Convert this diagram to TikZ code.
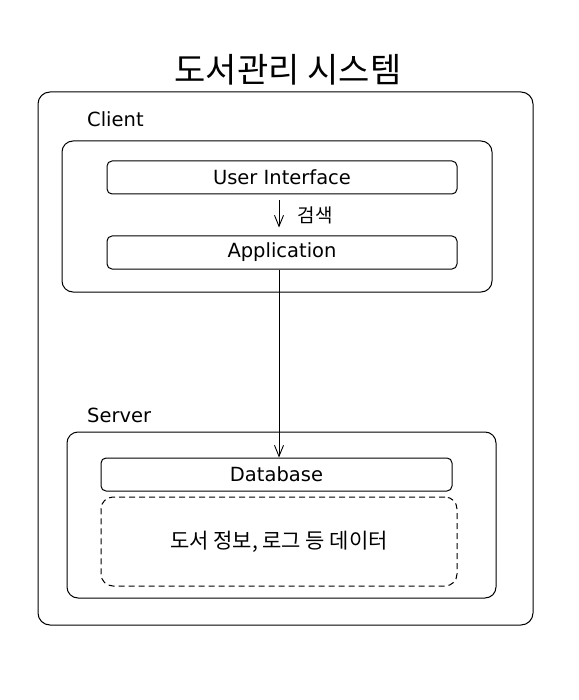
\documentclass[tikz,border=0pt]{standalone}
\usepackage{fontspec}
\setmainfont{DejaVu Sans}
\newfontfamily\kr{Noto Sans CJK KR}
\usetikzlibrary{arrows.meta,positioning}

\begin{document}
\begin{tikzpicture}[
    x=1pt, y=-1pt,
    frame/.style={draw, line width=1pt, rounded corners=12pt},
    layer/.style={frame, rounded corners=11pt},
    part/.style={draw, line width=1pt, rounded corners=5pt, minimum height=33pt,
      inner sep=0pt, font=\fontsize{19.5}{22}\selectfont},
    store/.style={part, dashed, dash pattern=on 6pt off 4pt, rounded corners=12pt,
      font=\kr\fontsize{21}{24}\selectfont},
    arrow/.style={-{Straight Barb[length=11pt,width=9pt]}, line width=0.9pt},
    label/.style={anchor=west, inner sep=0pt, font=\fontsize{19.5}{22}\selectfont}
  ]
    \useasboundingbox (0,0) rectangle (578,700);

    \node[font=\kr\fontsize{34}{38}\selectfont] (title) at (288,70) {도서관리 시스템};
    \node[frame, minimum width=495pt, minimum height=533pt] (system) at (285.5,358.5) {};

    % client side
    \node[label] (clientlbl) at (87,119) {Client};
    \node[layer, minimum width=430pt, minimum height=151pt] (client) at (277,216.5) {};
    \node[part, minimum width=350pt] (ui) at (282,177.5) {User Interface};
    \node[part, minimum width=350pt] (app) at (282,252.5) {Application};

    % server side
    \node[label] (serverlbl) at (87,415) {Server};
    \node[layer, minimum width=429pt, minimum height=166pt] (server) at (281.5,515) {};
    \node[part, minimum width=351pt] (db) at (276.5,474.5) {Database};
    \node[store, minimum width=356pt, minimum height=89pt] (data) at (279,541.5)
      {도서 정보, 로그 등 데이터};

    \draw[arrow, shorten <=6pt, shorten >=8pt] (ui.south -| data.center) --
      node[right=15pt, font=\kr\fontsize{19}{22}\selectfont] {검색}
      (app.north -| data.center);
    \draw[arrow] (app.south -| data.center) -- (db.north -| data.center);
  \end{tikzpicture}
\end{document}
